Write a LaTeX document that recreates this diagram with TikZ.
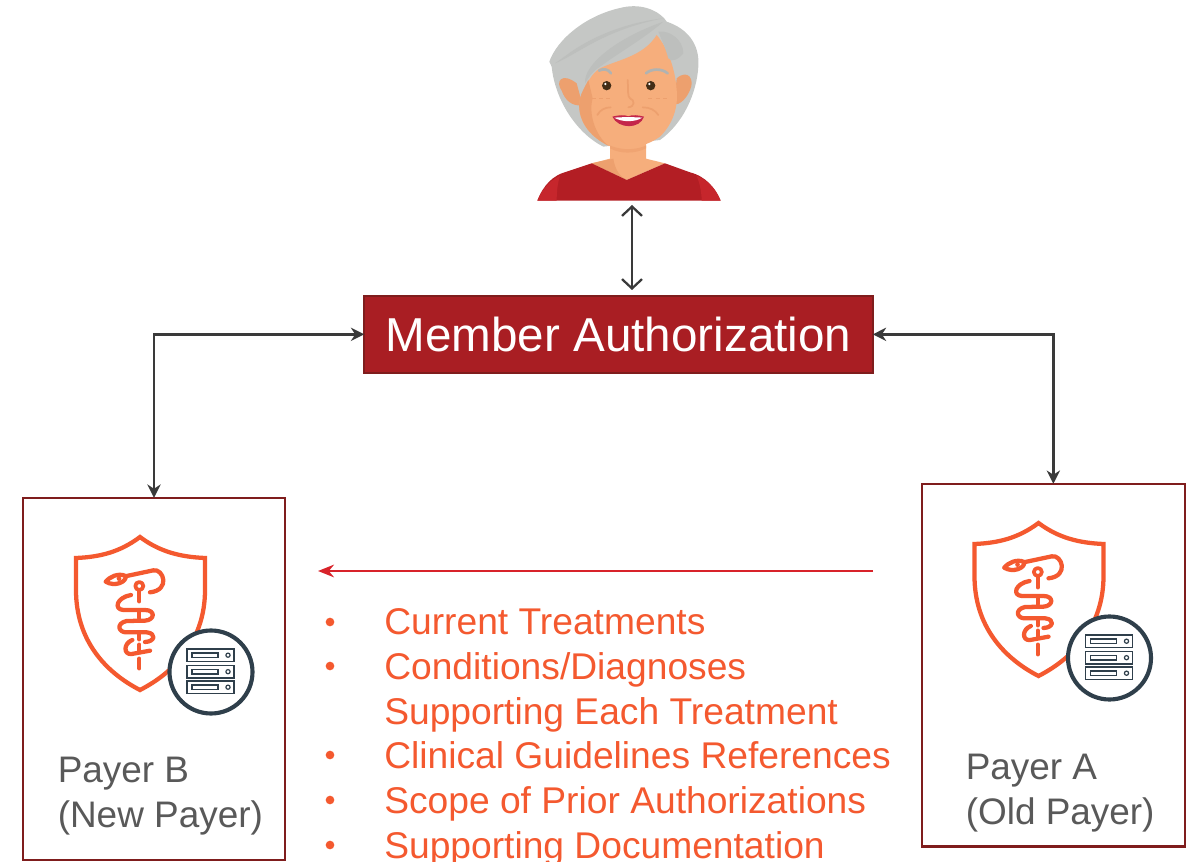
\documentclass[tikz,border=0pt]{standalone}
\usepackage{fontspec}
\setmainfont{Liberation Sans}
\usetikzlibrary{arrows.meta,calc}
\definecolor{boxred}{HTML}{A91E23}
\definecolor{boxedge}{HTML}{7F1D1D}
\definecolor{orangetx}{HTML}{F4592F}
\definecolor{arrowgray}{HTML}{3A3A3A}
\definecolor{paytext}{HTML}{595959}
\definecolor{navy}{HTML}{2F3F4B}
\definecolor{redline}{HTML}{D8232A}
\definecolor{hairA}{HTML}{C5C7C5}
\definecolor{hairB}{HTML}{BDBFBD}
\definecolor{skinA}{HTML}{F6AE7C}
\definecolor{skinB}{HTML}{EDA06E}
\definecolor{shirtA}{HTML}{B31E24}
\definecolor{shirtB}{HTML}{C6262C}
\definecolor{lipred}{HTML}{C4264A}
\tikzset{
  payerbox/.style={draw=boxedge,line width=1.7pt,fill=white,inner sep=0pt,outer sep=0pt,anchor=north west},
  listline/.style={text=orangetx,font=\fontsize{27.9pt}{30pt}\selectfont,anchor=base west,inner sep=0pt},
  paytx/.style={text=paytext,font=\fontsize{27.7pt}{30pt}\selectfont,anchor=base west,inner sep=0pt},
  gray link/.style={draw=arrowgray,line width=1.8pt,{Stealth[length=10pt,width=10pt]}-{Stealth[length=10pt,width=10pt]}},
  open link/.style={draw=arrowgray,line width=1.7pt,line cap=round,{Straight Barb[length=7pt,width=15pt]}-{Straight Barb[length=7pt,width=15pt]}},
  iconline/.style={draw=orangetx,line width=3.2pt,line cap=round,line join=round},
  srv/.style={draw=navy,line width=.9pt,fill=white},
}
\newcommand{\payericon}[2]{%
\begin{scope}[shift={(#1,#2)}]
  % shield
  \draw[iconline,line join=miter] (140,537) .. controls (120,552) and (100,557) .. (76,558)
     -- (76,590) .. controls (76,640) and (105,672) .. (140,690)
     .. controls (175,672) and (205,640) .. (205,590) -- (205,558)
     .. controls (181,557) and (160,552) .. (140,537) -- cycle;
  \begin{scope}[shift={(95,560)},x=.25pt,y=-.25pt]
    % staff
    \draw[iconline] (133,92) -- (133,124);
    \draw[iconline] (133,158) -- (133,174);
    \draw[iconline] (133,222) -- (133,238);
    \draw[iconline] (133,254) -- (133,272);
    \draw[iconline] (133,296) -- (133,325);
    \draw[iconline,line width=2.8pt] (133,78) circle (12);
    % snake
    \draw[iconline] (32,65) .. controls (45,50) and (70,38) .. (92,48)
       .. controls (96,65) and (60,82) .. (32,65) -- cycle;
    \fill[orangetx] (72,56) circle (7);
    \draw[iconline] (95,48) -- (175,31) .. controls (205,25) and (228,90) .. (165,97);
    \draw[iconline] (108,105) .. controls (65,112) and (55,148) .. (85,150)
       -- (150,150) .. controls (182,150) and (180,180) .. (150,182)
       -- (95,183) .. controls (62,190) and (70,218) .. (95,217)
       -- (155,217) .. controls (185,220) and (180,245) .. (150,246);
    \draw[iconline] (112,240) .. controls (85,250) and (85,285) .. (110,282)
       -- (165,272);
  \end{scope}
  % server badge
  \draw[draw=navy,line width=3.1pt,fill=white] (211,672) circle (41.5);
  \foreach \yy in {649,665.5,681}{
    \draw[srv] (187,\yy) rectangle (234,\yy+12.5);
    \draw[srv] (192,\yy+4) rectangle (218,\yy+8.5);
    \draw[srv] (228,\yy+6.2) circle (2.1);
  }
\end{scope}}
\begin{document}
\begin{tikzpicture}[x=.75pt,y=-.75pt]
\useasboundingbox (0,0) rectangle (1195,862);
\clip (0,0) rectangle (1195,862);
% person
\begin{scope}[shift={(520,0)},x=.25pt,y=-.25pt]
  \fill[hairA] (88,185) .. controls (110,120) and (200,40) .. (320,20)
     .. controls (380,12) and (425,40) .. (440,65)
     .. controls (500,85) and (540,130) .. (535,200)
     .. controls (530,280) and (490,370) .. (420,420)
     -- (250,440) .. controls (170,400) and (105,300) .. (95,200) -- cycle;
  \fill[skinB] (170,250) .. controls (125,215) and (105,245) .. (125,272)
     .. controls (135,300) and (155,320) .. (188,316) -- cycle;
  \fill[skinB] (470,235) .. controls (505,205) and (525,240) .. (510,270)
     .. controls (500,295) and (480,315) .. (462,314) -- cycle;
  \fill[skinA] (270,420) -- (378,420) -- (378,476) -- (435,490) -- (320,540) -- (215,490) -- (270,476) -- cycle;
  \fill[skinB] (280,476) .. controls (285,510) and (300,530) .. (320,540) -- (215,490) -- cycle;
  \fill[skinA] (410,105) .. controls (370,170) and (290,180) .. (240,205)
     .. controls (215,220) and (200,250) .. (180,295)
     .. controls (170,340) and (190,400) .. (265,437)
     .. controls (310,452) and (370,445) .. (420,410)
     .. controls (460,370) and (475,320) .. (470,270)
     .. controls (465,200) and (440,140) .. (410,105) -- cycle;
  \fill[skinB] (205,240) .. controls (195,260) and (185,275) .. (180,295)
     .. controls (170,340) and (190,400) .. (265,437)
     .. controls (225,405) and (205,340) .. (218,295) -- cycle;
  \fill[skinB!70!skinA] (270,437) .. controls (310,452) and (345,450) .. (378,437) -- (378,445)
     .. controls (345,462) and (300,462) .. (270,445) -- cycle;
  \fill[hairB] (195,250) .. controls (190,190) and (300,110) .. (430,65)
     .. controls (380,110) and (280,170) .. (240,200)
     .. controls (215,215) and (205,235) .. (195,250) -- cycle;
  \fill[hairB] (105,190) .. controls (170,165) and (250,90) .. (430,55)
     .. controls (300,70) and (200,120) .. (140,165) -- cycle;
  \fill[hairB] (415,95) .. controls (450,90) and (490,120) .. (490,160)
     .. controls (480,175) and (455,190) .. (445,175)
     .. controls (435,140) and (425,120) .. (415,95) -- cycle;
  \draw[hairA!90!black,line width=2pt,line cap=round] (237,212) .. controls (250,205) and (265,207) .. (273,220);
  \draw[hairA!90!black,line width=2pt,line cap=round] (378,220) .. controls (395,205) and (425,205) .. (443,220);
  \fill[shirtA] (52,602) .. controls (70,555) and (100,525) .. (140,515) -- (215,490) -- (320,540) -- (435,490)
     -- (510,517) .. controls (560,530) and (585,565) .. (602,602) -- cycle;
  \fill[shirtB] (52,602) .. controls (65,570) and (90,540) .. (120,528) .. controls (112,550) and (110,580) .. (110,602) -- cycle;
  \fill[shirtB] (602,602) .. controls (590,570) and (565,540) .. (530,528) .. controls (540,550) and (545,580) .. (545,602) -- cycle;
  \fill[black!65!brown] (260,257) circle (14);
  \fill[black!65!brown] (392,257) circle (14);
  \fill[white] (256,252) circle (4);
  \fill[white] (388,252) circle (4);
  \draw[skinB,line width=1.3pt,line cap=round] (323,240) .. controls (325,270) and (322,290) .. (330,295) .. controls (345,300) and (345,320) .. (325,322);
  \draw[skinB,line width=1.3pt,line cap=round] (232,345) .. controls (240,330) and (255,322) .. (272,322);
  \draw[skinB,line width=1.3pt,line cap=round] (415,345) .. controls (405,330) and (390,322) .. (368,322);
  \draw[skinB,line width=1pt,dash pattern=on 3pt off 2.5pt] (215,295) -- (270,295);
  \draw[skinB,line width=1pt,dash pattern=on 3pt off 2.5pt] (385,295) -- (440,295);
  \fill[lipred] (277,350) .. controls (295,345) and (315,344) .. (325,349)
     .. controls (335,344) and (355,345) .. (372,350)
     .. controls (360,388) and (295,388) .. (277,350) -- cycle;
  \fill[white] (283,353) .. controls (305,351) and (345,351) .. (367,353)
     .. controls (345,367) and (305,367) .. (283,353) -- cycle;
\end{scope}
\coordinate (persontop) at (632,205);
% member box
\node[draw=boxedge,line width=1.7pt,fill=boxred,text=white,inner sep=0pt,outer sep=0pt,
      minimum width=381.5pt,minimum height=57.5pt,anchor=north west,
      font=\fontsize{35.7pt}{40pt}\selectfont] (member) at (364.2,296)
      {\raisebox{-2pt}{Member Authorization}};
\coordinate (memberin) at (632,290);
% payer boxes
\node[payerbox,minimum width=196.5pt,minimum height=271.5pt] (payerb) at (23,497.8) {};
\node[payerbox,minimum width=197pt,minimum height=272pt] (payera) at (922,483.8) {};
\payericon{0}{0}
\payericon{898.5}{-14}
\node[paytx] (pb1) at (57.5,782.5) {Payer B};
\node[paytx] (pb2) at (57.5,827.5) {(New Payer)};
\node[paytx] (pa1) at (965.5,779.5) {Payer A};
\node[paytx] (pa2) at (965.5,824.5) {(Old Payer)};
% connectors
\draw[open link] (persontop) -- (memberin);
\draw[gray link] (member.west) -| (payerb.north);
\draw[gray link] (member.east) -| (payera.north);
\coordinate (redstart) at (873,571);
\coordinate (redend) at (318,571);
\draw[draw=redline,line width=1.5pt,-{Stealth[length=12pt,width=9.5pt]}] (redstart) -- (redend);
% list
\foreach \yy/\tx/\nm in {634.5/Current Treatments/l1,679.5/Conditions\slash Diagnoses/l2,724.5/Supporting Each Treatment/l3,768.5/Clinical Guidelines References/l4,813.5/Scope of Prior Authorizations/l5,858.5/Supporting Documentation/l6}{
  \node[listline] (\nm) at (384,\yy) {\tx};
}
\foreach \yy/\nm in {622/b1,666/b2,755/b4,800/b5,845/b6}{
  \node[circle,fill=orangetx,inner sep=0pt,minimum size=6.5pt] (\nm) at (330,\yy) {};
}
\end{tikzpicture}
\end{document}
